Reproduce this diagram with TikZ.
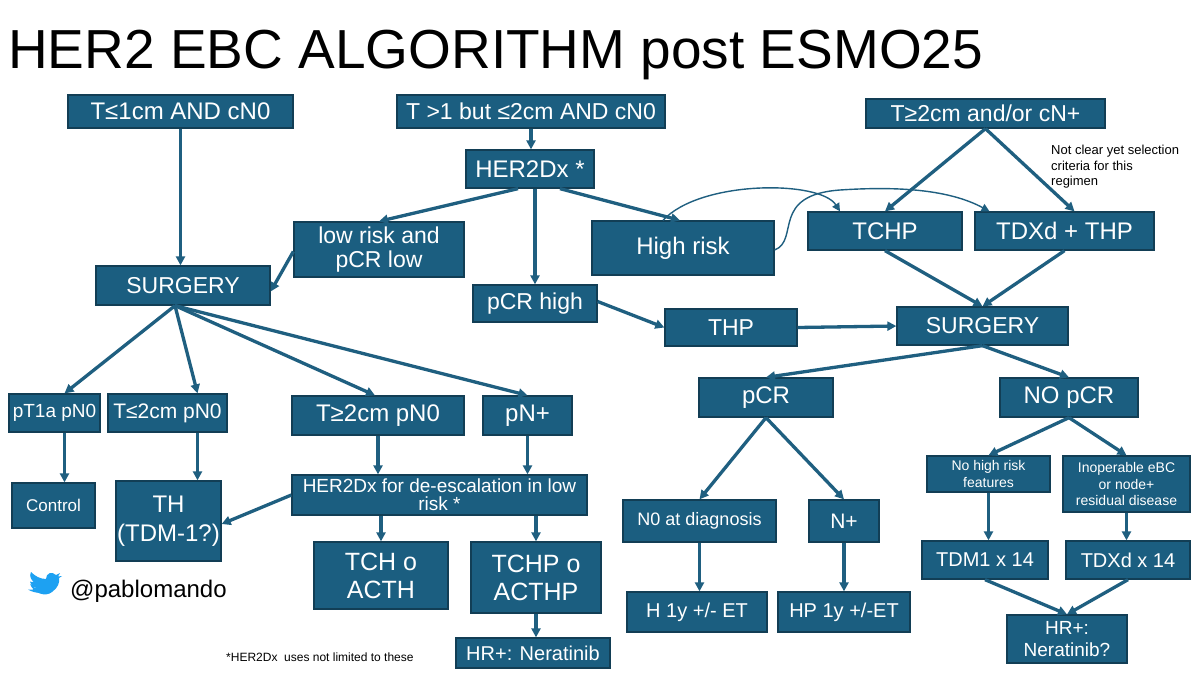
\documentclass[tikz,border=0pt]{standalone}
\usepackage{fontspec}
\setmainfont{Liberation Sans}
\usetikzlibrary{arrows.meta}
\definecolor{bxfill}{HTML}{1B5E80}
\definecolor{bxline}{HTML}{123E55}
\definecolor{arr}{HTML}{1F5F80}
\definecolor{bird}{HTML}{1DA1F2}
\newcommand\fs[1]{\fontsize{#1}{\dimexpr #1pt*6/5\relax}\selectfont}
\newcommand\bx[7]{\node[bx,minimum width=#4pt,minimum height=#5pt,font=\fs{#7}] (#1) at (#2,#3) {#6};}
\tikzset{
 bx/.style={draw=bxline,fill=bxfill,line width=1.3pt,text=white,inner sep=0pt,align=center},
 ar/.style={draw=arr,line width=3.3pt,-{Triangle[length=9pt,width=9pt]}},
 thin/.style={draw=arr,line width=1.4pt,-{Triangle[length=8pt,width=8pt]}}
}
\begin{document}
\begin{tikzpicture}[x=1pt,y=-1pt]
\useasboundingbox[fill=white] (0,0) rectangle (1200,675);
\node[anchor=base west,font=\fs{55},inner sep=0] (title) at (8,68) {HER2 EBC ALGORITHM post ESMO25};
\bx{A}{180.5}{111.5}{225}{33}{T≤1cm AND cN0}{24}
\bx{B}{531}{111.5}{268}{33}{T >1 but ≤2cm AND cN0}{23}
\bx{C}{985.5}{113.5}{239}{29}{T≥2cm and/or cN+}{23}
\bx{D}{530}{169}{128}{38}{HER2Dx *}{24}
\bx{E}{379}{249.5}{170}{55}{low risk and\\[-4pt]pCR low}{23}
\bx{F}{683}{248}{182}{54}{High risk}{24}
\bx{G}{885}{231}{154}{38}{TCHP}{24}
\bx{H}{1064.5}{231}{179}{38}{TDXd + THP}{24}
\bx{I}{183}{285.5}{174}{39}{SURGERY}{23}
\bx{J}{535}{303.5}{124}{37}{pCR high}{23}
\bx{K}{731}{327.5}{132}{37}{THP}{23}
\bx{L}{982.5}{326}{171}{38}{SURGERY}{23}
\bx{M}{54.5}{413}{91}{38}{pT1a pN0}{19}
\bx{N}{167.5}{413}{119}{38}{T≤2cm pN0}{21}
\bx{O}{378}{415.5}{172}{39}{T≥2cm pN0}{24}
\bx{P}{527.5}{415.5}{89}{39}{pN+}{24}
\bx{Q}{439.5}{495}{295}{40}{HER2Dx for de-escalation in low\\[-5pt]risk *}{19}
\bx{R}{53.5}{505.5}{83}{45}{Control}{17}
\bx{S}{168.5}{521}{105}{80}{TH\\(TDM-1?)}{24}
\bx{T}{381}{575.5}{134}{67}{TCH o\\[-2pt]ACTH}{25}
\bx{U}{536}{577.5}{130}{71}{TCHP o\\[-2pt]ACTHP}{25}
\bx{V}{533}{653}{154}{30}{HR+: Neratinib}{20}
\bx{W}{766}{397.5}{134}{39}{pCR}{24}
\bx{X}{1069}{397.5}{138}{39}{NO pCR}{24}
\bx{Y}{699.5}{521}{153}{42}{N0 at diagnosis}{18}
\bx{Z}{844}{521}{70}{42}{N+}{21}
\bx{AA}{697}{612}{140}{40}{H 1y +/- ET}{20}
\bx{AB}{844}{612}{132}{40}{HP 1y +/-ET}{20}
\bx{AC}{988.5}{474}{123}{36}{No high risk\\features}{14}
\bx{AD}{1126.5}{484}{127}{56}{Inoperable eBC\\or node+\\residual disease}{14}
\bx{AE}{985}{560}{126}{38}{TDM1 x 14}{20}
\bx{AF}{1128}{560}{124}{38}{TDXd x 14}{20}
\bx{AG}{1067}{639}{120}{48}{HR+:\\Neratinib?}{19}
% notes
\node[anchor=north west,align=left,font=\fs{13},inner sep=0] (note) at (1051,145) {Not clear yet selection\\criteria for this\\regimen};
\node[anchor=west,font=\fs{12},inner sep=0] (foot) at (226,657) {*HER2Dx\ \ uses not limited to these};
\node[anchor=west,font=\fs{24},inner sep=0] (handle) at (70,591) {@pablomando};
% bird
\fill[bird] (30,584) .. controls (34,594) and (46,597) .. (52,592)
  .. controls (58,588) and (60,582) .. (59,578) -- (62,576) -- (58,576.5) -- (60,573) -- (56,575)
  .. controls (52,571) and (46,573) .. (46,579)
  .. controls (40,579) and (35,576) .. (31,572)
  .. controls (29,576) and (31,580) .. (34,582)
  .. controls (32,582) and (31,582) .. (30,581.5)
  .. controls (31,585) and (33,587) .. (36,588)
  .. controls (34,590) and (31,590) .. (28,589.5)
  .. controls (32,592) and (37,593) .. (41,593) -- cycle;
% arrows
\draw[ar] (A.south) -- (A.south |- I.north);
\draw[ar] (B.south) -- (D.north -| B.south);
\draw[ar] ([xshift=-12pt]D.south) -- ([xshift=0pt]E.north);
\draw[ar] (J.north |- D.south) -- (J.north);
\draw[ar] ([xshift=30pt]D.south) -- ([xshift=-3pt]F.north);
\draw[ar] ([yshift=-2pt]E.west) -- ([yshift=-6pt]I.east);
\draw[ar] (C.south) -- (G.north);
\draw[ar] (C.south) -- ([xshift=10pt]H.north);
\draw[thin] ([xshift=-20pt]F.north) .. controls (700,180) and (820,180) .. ([xshift=-45pt]G.north);
\draw[thin] ([yshift=-2pt]F.east) .. controls (800,240) and (770,195) .. (840,190) .. controls (900,186) and (950,190) .. ([xshift=-75pt]H.north);
\draw[ar] ([xshift=-8pt]I.south) -- ([xshift=10pt]M.north);
\draw[ar] ([xshift=-8pt]I.south) -- ([xshift=30pt]N.north);
\draw[ar] ([xshift=-8pt]I.south) -- ([xshift=-3pt]O.north);
\draw[ar] ([xshift=-8pt]I.south) -- (P.north);
\draw[ar] ([yshift=2pt]J.east) -- (K.west);
\draw[ar] (K.east) -- (L.west);
\draw[ar] (G.south) -- (L.north);
\draw[ar] (H.south) -- (L.north);
\draw[ar] (L.south) -- (W.north);
\draw[ar] (L.south) -- (X.north);
\draw[ar] ([xshift=10pt]M.south) -- ([xshift=11pt]R.north);
\draw[ar] ([xshift=30pt]N.south) -- ([xshift=30pt]N.south |- S.north);
\draw[ar] (O.south) -- (O.south |- Q.north);
\draw[ar] (P.south) -- (P.south |- Q.north);
\draw[ar] (Q.west) -- ([yshift=-3pt]S.east);
\draw[ar] (Q.south -| T.north) -- (T.north);
\draw[ar] (Q.south -| U.north) -- (U.north);
\draw[ar] (U.south) -- (U.south |- V.north);
\draw[ar] (W.south) -- (Y.north);
\draw[ar] (W.south) -- (Z.north);
\draw[ar] (Y.south) -- (Y.south |- AA.north);
\draw[ar] (Z.south) -- (Z.south |- AB.north);
\draw[ar] (X.south) -- (AC.north);
\draw[ar] (X.south) -- (AD.north);
\draw[ar] (AC.south) -- (AC.south |- AE.north);
\draw[ar] (AD.south) -- (AD.south |- AF.north);
\draw[ar] (AE.south) -- (AG.north);
\draw[ar] (AF.south) -- (AG.north);
\end{tikzpicture}
\end{document}
